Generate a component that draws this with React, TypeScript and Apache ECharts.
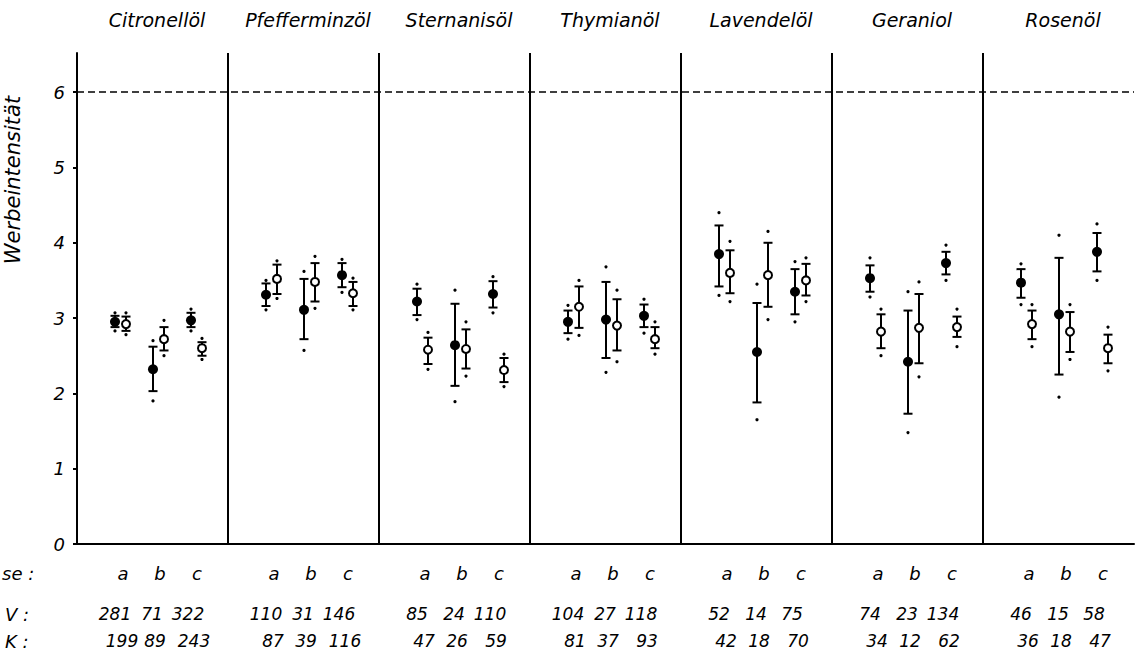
import React, { useEffect, useRef } from 'react';
import * as echarts from 'echarts';

// ---------- data ----------
const oils = ['Citronellöl', 'Pfefferminzöl', 'Sternanisöl', 'Thymianöl', 'Lavendelöl', 'Geraniol', 'Rosenöl'];
const phases = ['a', 'b', 'c'];
const yTicks = [0, 1, 2, 3, 4, 5, 6];
const refLineValue = 6;

// sample sizes per oil (phases a, b, c)
const vCounts = [[281, 71, 322], [110, 31, 146], [85, 24, 110], [104, 27, 118], [52, 14, 75], [74, 23, 134], [46, 15, 58]];
const kCounts = [[199, 89, 243], [87, 39, 116], [47, 26, 59], [81, 37, 93], [42, 18, 70], [34, 12, 62], [36, 18, 47]];

// V (filled circles): per oil a, b, c
const vMean = [2.95, 2.32, 2.97, 3.31, 3.11, 3.57, 3.22, 2.64, 3.32, 2.95, 2.98, 3.03, 3.85, 2.55, 3.35, 3.53, 2.42, 3.73, 3.47, 3.05, 3.88];
const vBarLow = [2.88, 2.03, 2.88, 3.16, 2.72, 3.41, 3.04, 2.10, 3.14, 2.80, 2.47, 2.88, 3.42, 1.88, 3.05, 3.35, 1.73, 3.58, 3.27, 2.25, 3.62];
const vBarHigh = [3.03, 2.62, 3.07, 3.46, 3.52, 3.73, 3.39, 3.19, 3.49, 3.10, 3.48, 3.18, 4.23, 3.20, 3.65, 3.70, 3.10, 3.88, 3.65, 3.80, 4.13];
const vDotLow = [2.83, 1.90, 2.83, 3.11, 2.57, 3.34, 2.98, 1.89, 3.07, 2.72, 2.28, 2.80, 3.30, 1.65, 2.95, 3.28, 1.48, 3.50, 3.18, 1.95, 3.50];
const vDotHigh = [3.07, 2.70, 3.12, 3.50, 3.62, 3.78, 3.45, 3.37, 3.55, 3.17, 3.68, 3.25, 4.40, 3.45, 3.75, 3.80, 3.35, 3.97, 3.72, 4.10, 4.25];

// K (open circles): per oil a, b, c
const kMean = [2.92, 2.72, 2.60, 3.52, 3.48, 3.33, 2.58, 2.59, 2.31, 3.15, 2.90, 2.72, 3.60, 3.57, 3.50, 2.82, 2.87, 2.88, 2.92, 2.82, 2.60];
const kBarLow = [2.83, 2.57, 2.50, 3.32, 3.22, 3.16, 2.39, 2.33, 2.15, 2.87, 2.57, 2.60, 3.33, 3.15, 3.30, 2.60, 2.40, 2.75, 2.72, 2.55, 2.40];
const kBarHigh = [3.02, 2.88, 2.68, 3.71, 3.73, 3.48, 2.74, 2.85, 2.47, 3.42, 3.25, 2.88, 3.90, 4.00, 3.72, 3.05, 3.32, 3.02, 3.10, 3.08, 2.78];
const kDotLow = [2.78, 2.50, 2.45, 3.26, 3.13, 3.11, 2.32, 2.23, 2.09, 2.77, 2.42, 2.52, 3.22, 2.98, 3.22, 2.50, 2.22, 2.62, 2.62, 2.45, 2.30];
const kDotHigh = [3.07, 2.97, 2.73, 3.76, 3.82, 3.53, 2.81, 2.95, 2.52, 3.50, 3.37, 2.95, 4.02, 4.15, 3.80, 3.12, 3.48, 3.12, 3.18, 3.18, 2.88];

// ---------- layout (panel units: each oil panel spans 1 x-unit = 151px) ----------
const PANEL = 151;
const filledOff = [38 / PANEL, 76 / PANEL, 114 / PANEL];
const openOff = [49 / PANEL, 87 / PANEL, 125 / PANEL];
const phaseOff = [46 / PANEL, 83 / PANEL, 120 / PANEL];
const vNumOff = [38 / PANEL, 75 / PANEL, 111 / PANEL];
const kNumOff = [45 / PANEL, 78 / PANEL, 117 / PANEL];
const titleOff = 80 / PANEL;

const FONT = 'DejaVu Sans';

function buildData(off: number[], mean: number[], lo: number[], hi: number[], dlo: number[], dhi: number[]) {
  const out: number[][] = [];
  oils.forEach((_, i) => {
    phases.forEach((__, j) => {
      const k = i * 3 + j;
      out.push([i + off[j], mean[k], lo[k], hi[k], dlo[k], dhi[k]]);
    });
  });
  return out;
}

function makeRender(filled: boolean) {
  return (params: any, api: any) => {
    const x = api.value(0);
    const p = api.coord([x, api.value(1)]);
    const lo = api.coord([x, api.value(2)]);
    const hi = api.coord([x, api.value(3)]);
    const dlo = api.coord([x, api.value(4)]);
    const dhi = api.coord([x, api.value(5)]);
    const cap = 4.5;
    const ls = { stroke: '#000', lineWidth: 2 };
    return {
      type: 'group',
      children: [
        { type: 'line', shape: { x1: p[0], y1: hi[1], x2: p[0], y2: lo[1] }, style: ls },
        { type: 'line', shape: { x1: p[0] - cap, y1: hi[1], x2: p[0] + cap, y2: hi[1] }, style: ls },
        { type: 'line', shape: { x1: p[0] - cap, y1: lo[1], x2: p[0] + cap, y2: lo[1] }, style: ls },
        { type: 'circle', shape: { cx: p[0], cy: dhi[1], r: 1.6 }, style: { fill: '#000' } },
        { type: 'circle', shape: { cx: p[0], cy: dlo[1], r: 1.6 }, style: { fill: '#000' } },
        filled
          ? { type: 'circle', shape: { cx: p[0], cy: p[1], r: 5 }, style: { fill: '#000' } }
          : { type: 'circle', shape: { cx: p[0], cy: p[1], r: 4 }, style: { fill: '#fff', stroke: '#000', lineWidth: 2 } },
      ],
    };
  };
}

export default function App() {
  const ref = useRef<HTMLDivElement>(null);

  useEffect(() => {
    const chart = echarts.init(ref.current!, null, { renderer: 'svg' });
    const dividers = oils.slice(1).map((_, i) => i + 1);

    chart.setOption({
      animation: false,
      backgroundColor: '#fff',
      grid: { left: 77, right: 1, top: 53, bottom: 111, containLabel: false, outerBoundsMode: 'none' },
      xAxis: {
        type: 'value',
        min: 0,
        max: oils.length,
        axisLine: { show: true, lineStyle: { color: '#000', width: 2 } },
        axisTick: { show: false },
        axisLabel: { show: false },
        splitLine: { show: false },
      },
      yAxis: {
        type: 'value',
        min: 0,
        max: 6.52,
        interval: 1,
        axisLine: { show: true, lineStyle: { color: '#000', width: 2 } },
        axisTick: { show: true, inside: false, length: 4, lineStyle: { color: '#000', width: 2 }, customValues: yTicks },
        axisLabel: {
          customValues: yTicks,
          margin: 12,
          fontSize: 18,
          fontStyle: 'italic',
          fontFamily: FONT,
          color: '#000',
          formatter: (v: number) => (Number.isInteger(v) ? String(v) : ''),
        },
        splitLine: { show: false },
      },
      series: [
        {
          type: 'scatter',
          data: [],
          silent: true,
          markLine: {
            silent: true,
            animation: false,
            symbol: ['none', 'none'],
            label: { show: false },
            data: [
              ...dividers.map((v) => ({ xAxis: v, lineStyle: { type: 'solid', width: 2, color: '#000' } })),
              { yAxis: refLineValue, lineStyle: { type: [7, 4], width: 1.6, color: '#000' } },
            ],
          },
        },
        {
          type: 'custom',
          renderItem: makeRender(true),
          data: buildData(filledOff, vMean, vBarLow, vBarHigh, vDotLow, vDotHigh),
          encode: { x: 0, y: 1 },
          z: 10,
        },
        {
          type: 'custom',
          renderItem: makeRender(false),
          data: buildData(openOff, kMean, kBarLow, kBarHigh, kDotLow, kDotHigh),
          encode: { x: 0, y: 1 },
          z: 10,
        },
      ],
    });

    const px = (x: number) => chart.convertToPixel({ xAxisIndex: 0 }, x) as unknown as number;
    const txt = (text: string, x: number, y: number, size: number, align = 'center', extra: any = {}) => ({
      type: 'text',
      x,
      y,
      silent: true,
      ...extra,
      style: { text, fill: '#000', fontSize: size, fontStyle: 'italic', fontFamily: FONT, align, verticalAlign: 'middle' },
    });

    const graphics: any[] = [];
    oils.forEach((name, i) => {
      graphics.push(txt(name, px(i + titleOff), 20, 19));
      phases.forEach((ph, j) => {
        graphics.push(txt(ph, px(i + phaseOff[j]), 573, 18));
        graphics.push(txt(String(vCounts[i][j]), px(i + vNumOff[j]), 614, 17));
        graphics.push(txt(String(kCounts[i][j]), px(i + kNumOff[j]), 641, 17));
      });
    });
    graphics.push(txt('se :', 2, 573, 18, 'left'));
    graphics.push(txt('V :', 5, 614, 18, 'left'));
    graphics.push(txt('K :', 5, 641, 18, 'left'));
    graphics.push(txt('Werbeintensität', 13, 180, 21, 'center', { rotation: Math.PI / 2 }));

    chart.setOption({ graphic: graphics });

    return () => chart.dispose();
  }, []);

  return (
    <div
      ref={ref}
      style={{ position: 'fixed', left: 0, top: 0, width: 1135, height: 655, background: '#fff' }}
    />
  );
}
